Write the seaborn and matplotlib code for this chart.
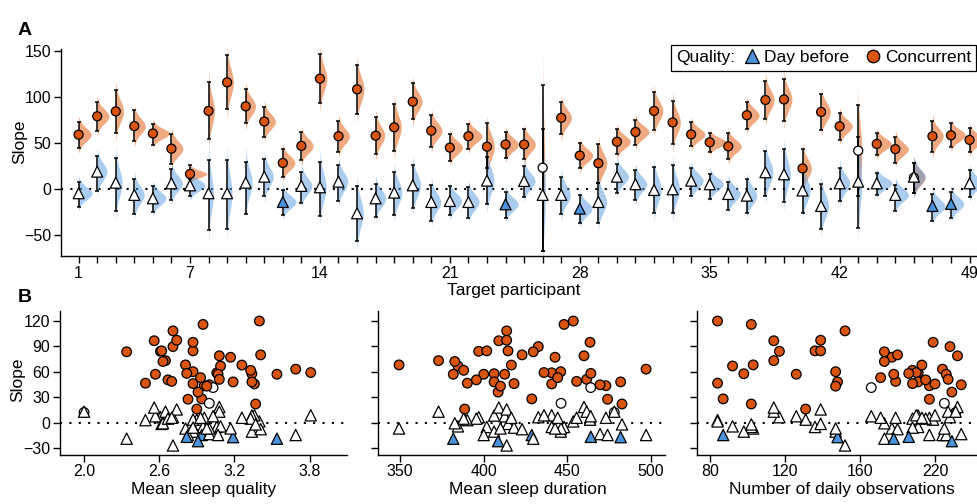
import numpy as np
import pandas as pd
import matplotlib
matplotlib.use("Agg")
import matplotlib.pyplot as plt
import seaborn as sns
from matplotlib.lines import Line2D
from matplotlib.offsetbox import HPacker

# ---------------------------------------------------------------- data
participant = list(range(1, 50))

conc_est = [58.7, 78.7, 84, 68, 60, 43.5, 16, 84.5, 115.6, 89.5, 73, 28, 46.5, 119.6,
            57, 108, 57.6, 66.7, 94.6, 63, 44.6, 57, 45.6, 48, 48, 22.8, 77, 36, 27.6,
            51, 61.6, 84.5, 72, 59, 50.4, 46, 79.8, 96.4, 97, 22, 83.4, 67.8, 41.3, 48.6,
            43, 12, 57, 58, 53]
conc_lo = [44, 63, 60, 52, 48, 27, 11, 54, 87, 71, 56.5, 13, 31, 93.5,
           40, 81.5, 37.4, 41, 75.4, 45.6, 30, 43.5, 22, 33.7, 32, -68, 59, 22, 5.8,
           37.7, 47.5, 63.8, 48.6, 46.4, 40, 32, 65, 75.4, 74, 2, 63.8, 53, -8, 36.3,
           27.6, -5, 40, 45.6, 40]
conc_hi = [73, 94, 107, 85, 70, 59, 26, 116, 145, 108, 89, 43, 62, 146,
           73.6, 134, 77.6, 92.4, 114.5, 79.8, 59, 70.6, 71.7, 62, 64.5, 112.7, 94.6, 50, 49,
           65, 74.7, 104.8, 95.6, 72.8, 60, 60, 94.6, 117.4, 119.6, 42.8, 103, 82, 91, 61,
           55.8, 27.6, 74, 71, 65.6]

day_est = [-5, 18.5, 6.5, -6.8, -10.5, 5.8, 3.6, -5, -5, 6.5, 13, -14.5, 3, 1.5,
           7.6, -26.8, -10.5, -4.3, 3.6, -14.5, -13.4, -14.5, 8.7, -17, 8.4, -6.8, -6.8, -21.7, -14.5,
           13, 4.8, -1.4, -0.7, 8.7, 4.8, -5.8, -7.6, 17.8, 15.6, -2, -18.8, 5.8, 7.6, 5.8,
           -6.8, 13, -18.8, -16.6, 5.8]
day_lo = [-19.5, -2, -24.6, -27, -25, -12, -8, -45, -44, -27.5, -7.6, -29, -16, -29.7,
          -13.4, -56.5, -31, -28.6, -21, -34.8, -28.6, -32, -17, -32, -8.7, -68, -27.8, -37, -37.6,
          -5, -12.3, -26.8, -26.8, -7.6, -11, -23, -26.8, -7.6, -15, -26, -44, -13, -43, -7,
          -23.9, -5, -34.8, -32, -8.7]
day_hi = [7.6, 35.5, 33.7, 10, 3, 21, 16, 31, 31, 29, 32.6, -1.5, 18.5, 29,
          25.8, 3, 4.8, 18.5, 26, 4, 2.5, 2, 34.8, -3.3, 24.7, 65, 13, -7.2, 6.5,
          26.5, 20, 24, 25.8, 23, 16, 7.6, 10, 41, 43, 21, 5, 23, 56.6, 16.7,
          4, 27.6, -5.8, -3.3, 20]

mean_quality = [3.06, 3.08, 2.61, 2.81, 2.87, 2.96, 2.90, 2.87, 2.95, 2.71, 2.65, 2.94, 2.49, 3.40,
                2.57, 2.71, 3.34, 3.09, 2.87, 3.69, 3.00, 3.07, 3.36, 3.19, 3.34, 3.00, 3.17, 2.91, 2.83,
                3.08, 3.33, 2.62, 2.63, 3.81, 2.67, 2.87, 3.41, 2.56, 2.74, 3.37, 2.34, 3.26, 3.03, 2.70,
                2.98, 2.00, 3.54, 2.82, 2.93]
mean_duration = [440.6, 459.9, 397, 349.4, 446, 473, 388.6, 401.8, 448, 432.6, 373, 428.7, 390.2, 453.5,
                 412.5, 413.7, 406.2, 384.6, 463.5, 497, 469.5, 400, 440.6, 481.8, 406.2, 446.2, 442.6, 408.6, 474,
                 461.5, 388, 414.5, 382.7, 436, 395.6, 418.1, 422.9, 409, 413.7, 482.6, 429.6, 416.5, 463.9, 455.5,
                 410, 478, 381.8, 464, 444.2]
n_obs = [191, 212, 117, 103, 147, 197, 131, 136, 102, 208, 114, 87, 84, 84,
         126, 152, 98, 92, 199, 204, 214, 206, 200, 148, 191, 205, 177, 209, 197,
         207, 188, 139, 173, 190, 195, 188, 180, 114, 139, 102, 173, 193, 166, 179,
         147, 211, 178, 186, 171]

xticks_a = [1, 7, 14, 21, 28, 35, 42, 49]
yticks_a = [-50, 0, 50, 100, 150]
yticks_b = [-30, 0, 30, 60, 90, 120]
xticks_quality = [2.0, 2.6, 3.2, 3.8]
xticks_duration = [350, 400, 450, 500]
xticks_obs = [80, 120, 160, 200]
xticklabels_obs = ["80", "120", "160", "220"]

# ---------------------------------------------------------------- styling
sns.set_theme(style="ticks")
plt.rcParams["font.family"] = ["Liberation Sans", "DejaVu Sans"]
plt.rcParams.update({
    "axes.edgecolor": "black", "axes.linewidth": 1.0,
    "xtick.color": "black", "ytick.color": "black",
    "xtick.major.size": 5, "ytick.major.size": 5,
    "xtick.major.width": 1.0, "ytick.major.width": 1.0,
    "xtick.labelsize": 11.5, "ytick.labelsize": 11.5,
    "axes.labelsize": 12.5, "text.color": "black", "axes.labelcolor": "black",
})

ORANGE = "#D9540E"
BLUE = "#4B93DA"
ORANGE_SLAB = "#E15505"
BLUE_SLAB = "#559BE1"
palette = {"Concurrent": ORANGE, "Day before": BLUE, "ns": "white"}
markers = {"Concurrent": "o", "Day before": "^"}

conc = pd.DataFrame({"participant": participant, "est": conc_est, "lo": conc_lo,
                     "hi": conc_hi, "quality": "Concurrent"})
day = pd.DataFrame({"participant": participant, "est": day_est, "lo": day_lo,
                    "hi": day_hi, "quality": "Day before"})
df = pd.concat([conc, day], ignore_index=True)
sig = (df["lo"] > 0) | (df["hi"] < 0)
df["fill"] = np.where(sig, df["quality"], "ns")
cov = pd.DataFrame({"participant": participant, "Mean sleep quality": mean_quality,
                    "Mean sleep duration": mean_duration,
                    "Number of daily observations": n_obs})
df = df.merge(cov, on="participant", how="left")

W, H = 977, 504
fig = plt.figure(figsize=(W / 100, H / 100), dpi=100)


def rect(left, top, right, bottom):
    return [left / W, 1 - bottom / H, (right - left) / W, (bottom - top) / H]


def zero_line(ax):
    ax.axhline(0, color="black", lw=1.5, ls=(0, (1, 3.5)), zorder=0.5)


def slab(ax, x0, est, lo, hi, color):
    # half-density to the right of each estimate, spread from its interval
    sd = (hi - lo) / (2 * 1.96)
    y = np.linspace(est - 2.6 * sd, est + 2.6 * sd, 150)
    peak = min(0.9, 5.0 / sd)
    w = peak * np.exp(-0.5 * ((y - est) / sd) ** 2)
    ax.fill_betweenx(y, x0, x0 + w, color=color, alpha=0.5, lw=0, zorder=1)


# ---------------------------------------------------------------- panel A
axA = fig.add_axes(rect(61, 49.3, 977, 256))
zero_line(axA)
for _, r in df.iterrows():
    slab(axA, r["participant"], r["est"], r["lo"], r["hi"],
         ORANGE_SLAB if r["quality"] == "Concurrent" else BLUE_SLAB)
axA.errorbar(df["participant"], df["est"],
             yerr=[df["est"] - df["lo"], df["hi"] - df["est"]],
             fmt="none", ecolor="black", elinewidth=1.1, capsize=1.6,
             capthick=1.1, zorder=2)
sns.scatterplot(data=df, x="participant", y="est", hue="fill", style="quality",
                size="quality", sizes={"Concurrent": 42, "Day before": 62},
                markers=markers, palette=palette, edgecolor="black",
                linewidth=0.9, legend=False, ax=axA, zorder=3)
axA.set_xlim(0.05, 49.4)
axA.set_ylim(-73.2, 151.5)
axA.set_xticks(participant)
axA.set_xticklabels([str(p) if p in xticks_a else "" for p in participant])
axA.set_yticks(yticks_a)
axA.set_yticklabels([str(v).replace("-", "\u2212") for v in yticks_a])
axA.tick_params(axis="x", pad=2.5)
axA.tick_params(axis="y", pad=2)
axA.set_xlabel("Target participant")
axA.set_ylabel("Slope")
axA.xaxis.set_label_coords(0.4945, -0.13)
axA.yaxis.set_label_coords(-0.037, 0.553)
sns.despine(ax=axA)

handles = [Line2D([], [], ls="none", marker="^", ms=10, mfc=BLUE, mec="black", mew=0.9),
           Line2D([], [], ls="none", marker="o", ms=9, mfc=ORANGE, mec="black", mew=0.9)]
leg = axA.legend(handles, ["Day before", "Concurrent"], title="Quality:", ncol=2,
                 loc="upper right", bbox_to_anchor=(0.999, 1.021), borderaxespad=0,
                 frameon=True, fancybox=False, framealpha=1, edgecolor="black",
                 handlelength=0.9, handletextpad=0.25, columnspacing=0.9,
                 borderpad=0.3, fontsize=12.5, title_fontsize=12.5)
leg.get_frame().set_linewidth(0.9)
# lay the legend title out on the same row as the entries
box = leg._legend_box
title_box, entries_box = box.get_children()
row = HPacker(pad=box.pad, sep=6, align="center", children=[title_box, entries_box])
row.set_figure(fig)
row.axes = axA
row.set_offset(leg._findoffset)
leg._legend_box = row

# ---------------------------------------------------------------- panel B
b_rects = [rect(60, 311, 346.7, 455), rect(378.3, 311, 665, 455), rect(697.3, 311, 977, 455)]
b_vars = ["Mean sleep quality", "Mean sleep duration", "Number of daily observations"]
b_xlims = [(1.808, 4.097), (337.0, 508.3), (73.2, 222.4)]
b_xticks = [xticks_quality, xticks_duration, xticks_obs]
b_xticklabels = [["2.0", "2.6", "3.2", "3.8"], [str(v) for v in xticks_duration], xticklabels_obs]
b_label_x = [0.5, 0.523, 0.516]

for i, (rc, var) in enumerate(zip(b_rects, b_vars)):
    ax = fig.add_axes(rc)
    zero_line(ax)
    sns.scatterplot(data=df, x=var, y="est", hue="fill", style="quality",
                    size="quality", sizes={"Concurrent": 48, "Day before": 66},
                    markers=markers, palette=palette, edgecolor="black",
                    linewidth=0.9, legend=False, ax=ax, zorder=3)
    ax.set_xlim(*b_xlims[i])
    ax.set_ylim(-38, 131.4)
    ax.set_xticks(b_xticks[i])
    ax.set_xticklabels(b_xticklabels[i])
    ax.set_yticks(yticks_b)
    if i == 0:
        ax.set_yticklabels([str(v).replace("-", "\u2212") for v in yticks_b])
        ax.set_ylabel("Slope")
        ax.yaxis.set_label_coords(-0.122, 0.524)
    else:
        ax.set_yticklabels([])
        ax.set_ylabel("")
    ax.set_xlabel(var)
    ax.xaxis.set_label_coords(b_label_x[i], -0.19)
    ax.tick_params(axis="x", pad=1.5)
    ax.tick_params(axis="y", pad=2)
    sns.despine(ax=ax)

fig.text(18 / W, 1 - 35 / H, "A", fontsize=14, fontweight="bold", ha="left", va="baseline")
fig.text(18 / W, 1 - 302 / H, "B", fontsize=14, fontweight="bold", ha="left", va="baseline")

fig.savefig("out.png", dpi=100)
